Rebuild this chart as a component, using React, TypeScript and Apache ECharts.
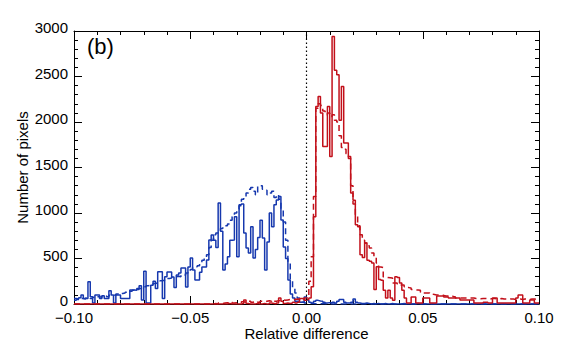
import React, { useEffect, useRef } from 'react';
import * as echarts from 'echarts';

// Histogram bins: left edge of bin i = BIN_START + i * BIN_WIDTH
const BIN_START = -0.1;
const BIN_WIDTH = 0.001;

const xTickLabels = ['\u22120.10', '\u22120.05', '0.00', '0.05', '0.10'];
const yTickLabels = ['0', '500', '1000', '1500', '2000', '2500', '3000'];

const blueSolid = [
  60, 55, 70, 100, 60, 60, 245, 80, 10, 100,
  100, 60, 90, 60, 60, 146, 100, 10, 100, 100,
  60, 60, 60, 60, 155, 155, 150, 170, 200, 44,
  360, 10, 10, 205, 250, 170, 355, 355, 60, 300,
  352, 352, 297, 180, 320, 340, 396, 396, 187, 407,
  506, 374, 264, 264, 350, 407, 407, 484, 704, 759,
  700, 620, 1110, 800, 374, 440, 520, 700, 704, 960,
  520, 1090, 1100, 780, 616, 560, 850, 506, 600, 730,
  920, 726, 374, 680, 1000, 850, 1090, 1144, 1180, 924,
  627, 500, 264, 110, 66, 30, 30, 20, 20, 77,
  44, 20, 10, 30, 40, 33, 30, 20, 10, 15,
  10, 20, 10, 30, 50, 50, 20, 10, 10, 20,
  55, 20, 10, 5, 5, 10, 5, 0, 5, 0,
  5, 0, 0, 5, 0, 0, 5, 0, 0, 0,
  0, 5, 0, 0, 0, 0, 0, 5, 0, 0,
  0, 0, 0, 0, 0, 0, 0, 0, 0, 0,
  0, 0, 0, 0, 0, 0, 0, 0, 0, 0,
  0, 0, 0, 0, 0, 0, 0, 0, 0, 0,
  0, 0, 0, 0, 0, 0, 0, 0, 0, 0,
  0, 0, 0, 0, 0, 0, 0, 0, 0, 0,
];

const blueDashed = [
  40, 50, 45, 60, 55, 65, 70, 60, 75, 70,
  80, 75, 85, 90, 80, 95, 100, 95, 110, 105,
  115, 120, 130, 125, 140, 150, 145, 160, 170, 180,
  190, 200, 205, 215, 225, 230, 240, 255, 260, 270,
  280, 285, 295, 300, 305, 300, 310, 320, 340, 360,
  380, 400, 410, 420, 450, 480, 500, 540, 620, 700,
  760, 780, 800, 830, 850, 860, 880, 920, 960, 1000,
  1040, 1080, 1150, 1180, 1220, 1260, 1280, 1240, 1200, 1290,
  1300, 1260, 1250, 1200, 1220, 1240, 1170, 1200, 1150, 1050,
  900, 700, 450, 260, 180, 120, 66, 40, 20, 10,
  8, 5, 5, 3, 3, 2, 2, 2, 0, 0,
  0, 0, 0, 0, 0, 0, 0, 0, 0, 0,
  0, 0, 0, 0, 0, 0, 0, 0, 0, 0,
  0, 0, 0, 0, 0, 0, 0, 0, 0, 0,
  0, 0, 0, 0, 0, 0, 0, 0, 0, 0,
  0, 0, 0, 0, 0, 0, 0, 0, 0, 0,
  0, 0, 0, 0, 0, 0, 0, 0, 0, 0,
  0, 0, 0, 0, 0, 0, 0, 0, 0, 0,
  0, 0, 0, 0, 0, 0, 0, 0, 0, 0,
  0, 0, 0, 0, 0, 0, 0, 0, 0, 0,
];

const redSolid = [
  0, 0, 0, 0, 0, 0, 0, 0, 0, 0,
  0, 0, 0, 0, 0, 0, 0, 0, 0, 0,
  0, 0, 0, 0, 0, 0, 0, 0, 0, 0,
  0, 0, 0, 0, 0, 0, 0, 0, 0, 0,
  0, 0, 0, 0, 0, 0, 0, 0, 0, 0,
  0, 0, 0, 0, 0, 0, 0, 0, 0, 0,
  0, 0, 0, 0, 0, 0, 5, 0, 0, 0,
  0, 0, 5, 44, 5, 0, 0, 0, 5, 0,
  0, 5, 0, 0, 10, 5, 0, 10, 66, 30,
  5, 10, 5, 10, 20, 10, 20, 60, 60, 40,
  50, 66, 190, 960, 2170, 2280, 2100, 1730, 1730, 2170,
  1620, 2940, 2570, 2520, 2020, 2390, 1770, 1770, 1620, 1220,
  1140, 870, 850, 540, 510, 670, 480, 470, 450, 160,
  410, 270, 260, 150, 66, 150, 66, 40, 300, 290,
  230, 150, 66, 10, 10, 77, 77, 10, 10, 10,
  66, 66, 66, 10, 10, 10, 88, 88, 88, 77,
  77, 66, 66, 66, 66, 66, 44, 44, 44, 44,
  44, 44, 10, 10, 10, 10, 20, 20, 10, 10,
  66, 66, 10, 10, 10, 10, 10, 10, 10, 10,
  66, 99, 99, 10, 10, 10, 44, 44, 10, 10,
];

const redDashed = [
  0, 0, 0, 0, 0, 0, 0, 0, 0, 0,
  0, 0, 0, 0, 0, 0, 0, 0, 0, 0,
  0, 0, 0, 0, 0, 0, 0, 0, 0, 0,
  0, 0, 0, 0, 0, 0, 0, 0, 0, 0,
  0, 0, 0, 0, 0, 0, 0, 0, 0, 0,
  0, 0, 0, 0, 0, 0, 0, 0, 0, 0,
  5, 0, 10, 5, 10, 15, 10, 20, 10, 15,
  20, 15, 25, 20, 20, 30, 20, 25, 30, 20,
  30, 25, 30, 35, 30, 40, 30, 35, 40, 45,
  40, 45, 50, 45, 50, 55, 50, 60, 55, 66,
  66, 250, 520, 1180, 2150, 2200, 2180, 2120, 2080, 2100,
  2060, 2080, 2020, 2000, 1850, 1720, 1700, 1650, 1600, 1300,
  1100, 980, 860, 760, 700, 670, 640, 616, 560, 517,
  450, 407, 400, 297, 290, 288, 286, 231, 231, 220,
  209, 209, 190, 180, 176, 160, 154, 154, 150, 130,
  121, 121, 121, 110, 105, 100, 99, 99, 95, 88,
  88, 88, 88, 80, 66, 66, 66, 66, 66, 66,
  66, 66, 60, 60, 58, 60, 60, 58, 55, 60,
  60, 58, 55, 60, 55, 55, 60, 55, 55, 50,
  55, 55, 50, 55, 55, 50, 55, 55, 50, 50,
];

const BLUE = '#1638ae';
const RED = '#c2101a';
const FONT = "'Liberation Sans', Arial, Helvetica, sans-serif";

function toSteps(counts: number[]): number[][] {
  const pts = counts.map((c, i) => [Number((BIN_START + i * BIN_WIDTH).toFixed(4)), c]);
  pts.push([Number((BIN_START + counts.length * BIN_WIDTH).toFixed(4)), counts[counts.length - 1]]);
  return pts;
}

function fmtX(v: number): string {
  if (Math.abs(v) < 1e-9) return xTickLabels[2];
  const idx = Math.round((v + 0.1) / 0.05);
  return xTickLabels[idx] ?? String(v);
}

function fmtY(v: number): string {
  const idx = Math.round(v / 500);
  return yTickLabels[idx] ?? String(v);
}

const common = {
  axisLine: { show: true, onZero: false, lineStyle: { color: '#000', width: 1 } },
  splitLine: { show: false },
  axisTick: { show: true, inside: true, length: 8, lineStyle: { color: '#000', width: 1 } },
  minorTick: { show: true, splitNumber: 5, length: 4, lineStyle: { color: '#000', width: 1 } },
};

export default function App() {
  const ref = useRef<HTMLDivElement>(null);
  useEffect(() => {
    const chart = echarts.init(ref.current!, null, { renderer: 'svg' });
    const lineSeries = (name: string, counts: number[], color: string, dashed: boolean) => ({
      name,
      type: 'line',
      step: 'end',
      showSymbol: false,
      symbol: 'none',
      data: toSteps(counts),
      lineStyle: { color, width: 1.5, type: dashed ? [6, 4] : 'solid' },
      xAxisIndex: 0,
      yAxisIndex: 0,
      silent: true,
    });
    chart.setOption({
      animation: false,
      backgroundColor: '#fff',
      textStyle: { fontFamily: FONT },
      grid: { left: 74, right: 28, top: 31, bottom: 50, containLabel: false },
      xAxis: [
        {
          ...common,
          type: 'value',
          position: 'bottom',
          min: -0.1,
          max: 0.1,
          interval: 0.05,
          name: 'Relative difference',
          nameLocation: 'middle',
          nameGap: 22,
          nameMoveOverlap: false,
          nameTextStyle: { color: '#000', fontSize: 15, fontFamily: FONT },
          axisLabel: { color: '#000', fontSize: 15, fontFamily: FONT, margin: 6, formatter: fmtX },
        },
        {
          ...common,
          type: 'value',
          position: 'top',
          min: -0.1,
          max: 0.1,
          interval: 0.05,
          axisLabel: { show: false },
        },
      ],
      yAxis: [
        {
          ...common,
          type: 'value',
          position: 'left',
          min: 0,
          max: 3000,
          interval: 500,
          name: 'Number of pixels',
          nameLocation: 'middle',
          nameGap: 44,
          nameMoveOverlap: false,
          nameTextStyle: { color: '#000', fontSize: 15, fontFamily: FONT },
          axisLabel: {
            color: '#000',
            fontSize: 15,
            fontFamily: FONT,
            margin: 6,
            verticalAlign: 'bottom',
            lineHeight: 7,
            formatter: fmtY,
          },
        },
        {
          ...common,
          type: 'value',
          position: 'right',
          min: 0,
          max: 3000,
          interval: 500,
          axisLabel: { show: false },
        },
      ],
      graphic: [
        {
          type: 'text',
          left: 87,
          top: 35,
          style: { text: '(b)', fontSize: 22, fontFamily: FONT, fill: '#000' },
        },
      ],
      series: [
        lineSeries('blueSolid', blueSolid, BLUE, false),
        lineSeries('blueDashed', blueDashed, BLUE, true),
        lineSeries('redDashed', redDashed, RED, true),
        lineSeries('redSolid', redSolid, RED, false),
        {
          name: 'zero',
          type: 'line',
          showSymbol: false,
          symbol: 'none',
          data: [[0, 0], [0, 3000]],
          lineStyle: { color: '#000', width: 1.2, type: [1.5, 2.5] },
          silent: true,
        },
      ],
    });
    return () => chart.dispose();
  }, []);
  return <div ref={ref} style={{ position: 'fixed', left: 0, top: 0, width: 567, height: 354 }} />;
}
